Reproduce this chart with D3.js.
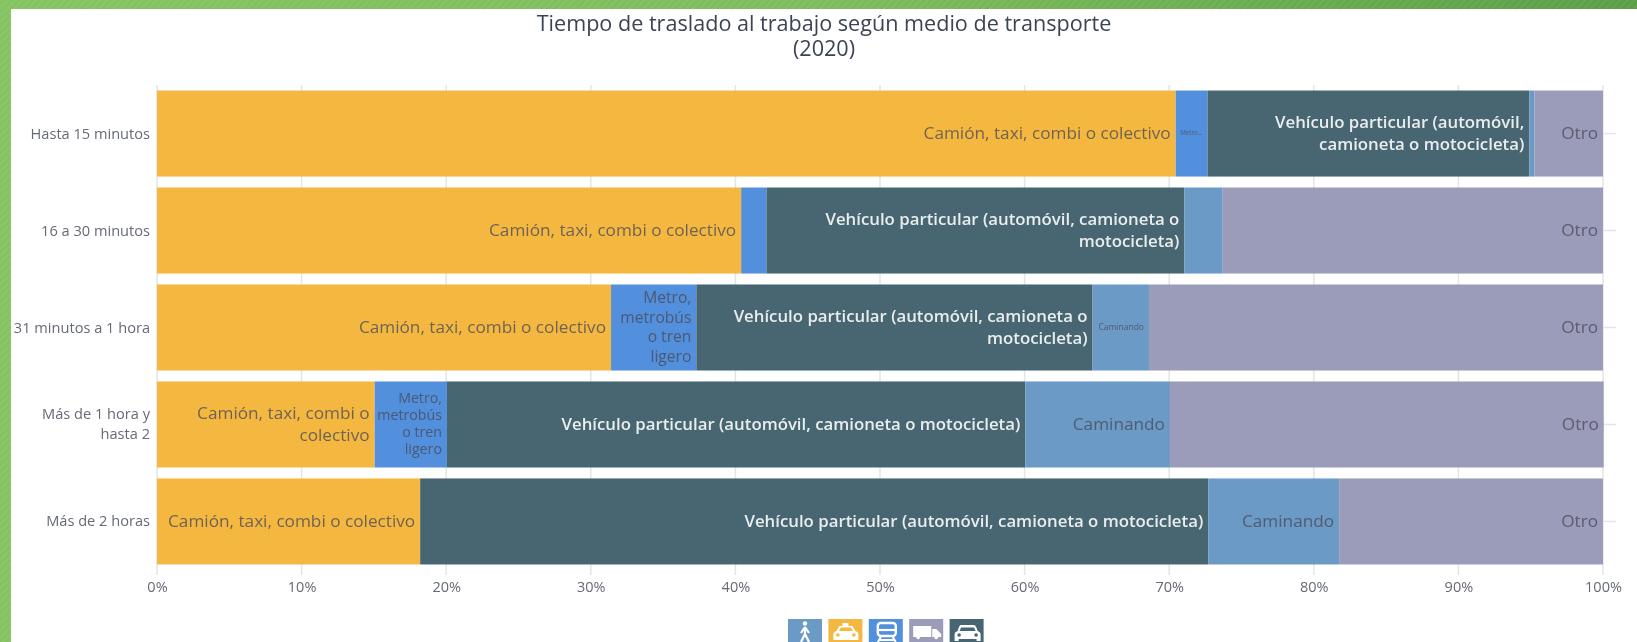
<!DOCTYPE html>
<html>
<head>
<meta charset="utf-8">
<script src="https://cdn.jsdelivr.net/npm/d3@7"></script>
<style>
html, body { margin: 0; padding: 0; background: #fff; overflow: hidden; }
svg { display: block; filter: blur(0.45px); }
text { font-family: "Open Sans", "Noto Sans", sans-serif; }
</style>
</head>
<body>
<div id="chart"></div>
<script>
var categories = ["Hasta 15 minutos", "16 a 30 minutos", "31 minutos a 1 hora", "Más de 1 hora y hasta 2", "Más de 2 horas"];
var seriesNames = ["Camión, taxi, combi o colectivo", "Metro, metrobús o tren ligero", "Vehículo particular (automóvil, camioneta o motocicleta)", "Caminando", "Otro"];
var camion = [70.45, 40.4, 31.4, 15.05, 18.2];
var metro = [2.2, 1.75, 5.9, 5.0, 0];
var vehiculo = [22.25, 28.9, 27.4, 40.0, 54.5];
var caminando = [0.35, 2.65, 3.9, 10.0, 9.05];
var otro = [4.75, 26.3, 31.4, 30.0, 18.25];
var seriesValues = [camion, metro, vehiculo, caminando, otro];
var xTicks = [0, 10, 20, 30, 40, 50, 60, 70, 80, 90, 100];
var title = ["Tiempo de traslado al trabajo según medio de transporte", "(2020)"];
// "" = no label in that cell, the first metro label is cut off in the original
var metroLabels = ["Metro...", "", "Metro, metrobús o tren ligero", "Metro, metrobús o tren ligero", ""];
var caminandoLabels = ["", "", "Caminando", "Caminando", "Caminando"];
var legendKeys = ["Caminando", "Camión, taxi, combi o colectivo", "Metro, metrobús o tren ligero", "Otro", "Vehículo particular (automóvil, camioneta o motocicleta)"];

var width = 1637, height = 642;
var margin = {top: 85, right: 34, bottom: 72, left: 157};

var colors = d3.scaleOrdinal()
    .domain(seriesNames)
    .range(["#f4b841", "#528fdc", "#486672", "#6a9ac5", "#9a9cb9"]);

var svg = d3.select("#chart").append("svg")
    .attr("width", width)
    .attr("height", height);

// green frame of the page
var defs = svg.append("defs");
var hatch = defs.append("pattern")
    .attr("id", "hatch")
    .attr("width", 5).attr("height", 5)
    .attr("patternUnits", "userSpaceOnUse")
    .attr("patternTransform", "rotate(45)");
hatch.append("rect").attr("width", 2).attr("height", 5).attr("fill", "#fff").attr("opacity", 0.06);
var grad = defs.append("linearGradient").attr("id", "topband");
grad.append("stop").attr("offset", "0%").attr("stop-color", "#84c460");
grad.append("stop").attr("offset", "50%").attr("stop-color", "#7cbc5c");
grad.append("stop").attr("offset", "100%").attr("stop-color", "#5a9e46");

svg.append("rect").attr("width", 11).attr("height", height).attr("fill", "#84c460");
svg.append("rect").attr("width", 11).attr("height", height).attr("fill", "url(#hatch)");
svg.append("rect").attr("width", width).attr("height", 9).attr("fill", "url(#topband)");
svg.append("rect").attr("width", width).attr("height", 9).attr("fill", "url(#hatch)");

// title
svg.append("text")
    .attr("text-anchor", "middle")
    .style("font-size", "21.6px")
    .style("fill", "#3c4454")
    .selectAll("tspan")
    .data(title)
    .enter().append("tspan")
    .attr("x", 824)
    .attr("y", function(d, i) { return 31 + i * 25; })
    .text(function(d) { return d; });

var x = d3.scaleLinear()
    .domain([0, 100])
    .range([margin.left, width - margin.right]);

var y = d3.scaleBand()
    .domain(categories)
    .range([margin.top, height - margin.bottom])
    .paddingInner(0.113)
    .paddingOuter(0.057);

// grid lines and ticks
var xAxis = svg.append("g")
    .attr("transform", "translate(0," + (height - margin.bottom) + ")")
    .call(d3.axisBottom(x).tickValues(xTicks).tickFormat(function(d) { return d + "%"; })
        .tickSize(0).tickPadding(12));
xAxis.select(".domain").remove();
xAxis.selectAll("text").style("font-size", "14.5px").style("fill", "#666a75");

svg.append("g").selectAll("line")
    .data(xTicks)
    .enter().append("line")
    .attr("x1", function(d) { return x(d); })
    .attr("x2", function(d) { return x(d); })
    .attr("y1", margin.top)
    .attr("y2", height - margin.bottom + 5)
    .attr("stroke", "#e4e4e4")
    .attr("stroke-width", 1.5);

// small ticks on the right side of the chart
svg.append("g").selectAll("line")
    .data(categories)
    .enter().append("line")
    .attr("x1", x(100))
    .attr("x2", x(100) + 13)
    .attr("y1", function(d) { return y(d) + y.bandwidth() / 2; })
    .attr("y2", function(d) { return y(d) + y.bandwidth() / 2; })
    .attr("stroke", "#e4e4e4")
    .attr("stroke-width", 1.5);

// stacked bars
var rows = categories.map(function(c, i) {
    var row = {category: c};
    seriesNames.forEach(function(s, j) { row[s] = seriesValues[j][i]; });
    return row;
});
var stacked = d3.stack().keys(seriesNames)(rows);

var layers = svg.append("g").selectAll("g")
    .data(stacked)
    .enter().append("g")
    .attr("fill", function(d) { return colors(d.key); });

layers.selectAll("rect")
    .data(function(d) { return d; })
    .enter().append("rect")
    .attr("x", function(d) { return x(d[0]); })
    .attr("width", function(d) { return x(d[1]) - x(d[0]); })
    .attr("y", function(d) { return y(d.data.category); })
    .attr("height", y.bandwidth());

// text inside the bars
function cellLabel(seriesIndex, rowIndex) {
    if (seriesIndex == 1) return metroLabels[rowIndex];
    if (seriesIndex == 3) return caminandoLabels[rowIndex];
    return seriesNames[seriesIndex];
}

function cellFont(seriesIndex, rowIndex) {
    if (seriesIndex == 1 && rowIndex == 0) return {size: 6.2, line: 7};
    if (seriesIndex == 1 && rowIndex == 3) return {size: 14.2, line: 17};
    if (seriesIndex == 1) return {size: 15.6, line: 19.5};
    if (seriesIndex == 3 && rowIndex == 2) return {size: 8.5, line: 10};
    if (seriesIndex == 2) return {size: 16.8, line: 21.5};
    return {size: 17.2, line: 21.5};
}

var labelPad = 5;
var labels = svg.append("g");

stacked.forEach(function(layer, s) {
    layer.forEach(function(d, r) {
        var label = cellLabel(s, r);
        if (!label) return;
        var font = cellFont(s, r);
        var right = x(d[1]) - labelPad;
        var maxWidth = x(d[1]) - x(d[0]) - labelPad * 2;
        var t = labels.append("text")
            .attr("text-anchor", "end")
            .style("font-size", font.size + "px")
            .style("font-weight", s == 2 ? 600 : 400)
            .style("fill", s == 2 ? "#e9edee" : "#4a4a58")
            .style("fill-opacity", s == 2 ? 1 : 0.78);

        // wrap on the width of the segment
        var words = label.split(" "), lines = [], current = "";
        words.forEach(function(w) {
            var test = current ? current + " " + w : w;
            t.text(test);
            if (t.node().getComputedTextLength() > maxWidth && current) {
                lines.push(current);
                current = w;
            } else {
                current = test;
            }
        });
        lines.push(current);
        t.text(null);

        var cy = y(d.data.category) + y.bandwidth() / 2;
        lines.forEach(function(line, i) {
            t.append("tspan")
                .attr("x", right)
                .attr("y", cy + (i - (lines.length - 1) / 2) * font.line + font.size * 0.35 - 0.5)
                .text(line);
        });
    });
});

// category labels
var yLabels = svg.append("g").selectAll("text")
    .data(categories)
    .enter().append("text")
    .attr("text-anchor", "end")
    .style("font-size", "14.6px")
    .style("fill", "#666a75");

yLabels.each(function(d) {
    var t = d3.select(this);
    var cy = y(d) + y.bandwidth() / 2;
    var lines = d == "Más de 1 hora y hasta 2" ? ["Más de 1 hora y", "hasta 2"] : [d];
    lines.forEach(function(line, i) {
        t.append("tspan")
            .attr("x", 150)
            .attr("y", cy + (i - (lines.length - 1) / 2) * 20 + 5)
            .text(line);
    });
});

// legend icons, the window cuts them off at the bottom
var legendX = d3.scaleBand().domain(legendKeys).range([788, 990]);
var iconSize = 34;

var icons = {};
icons[legendKeys[0]] = function(g) {
    g.append("circle").attr("cx", 17).attr("cy", 4.5).attr("r", 2.2).attr("fill", "#fff");
    g.append("path").attr("d", "M17 8 L13 14 M17 8 L21 14 M17 8 L17 15 L13 23 M17 15 L21 23")
        .attr("fill", "none").attr("stroke", "#fff").attr("stroke-width", 2.2);
};
icons[legendKeys[1]] = function(g) {
    g.append("path").attr("d", "M14 4 H20 V7 H24 L27 12 Q30 13 30 15 V21 H5 V15 Q5 13 8 12 L11 7 H14 Z").attr("fill", "#fff");
    g.append("path").attr("d", "M12.5 8.5 H22.5 L24.5 12 H10.5 Z").attr("fill", colors(seriesNames[0]));
    g.append("circle").attr("cx", 9.5).attr("cy", 16).attr("r", 1.8).attr("fill", colors(seriesNames[0]));
    g.append("circle").attr("cx", 25.5).attr("cy", 16).attr("r", 1.8).attr("fill", colors(seriesNames[0]));
};
icons[legendKeys[2]] = function(g) {
    g.append("rect").attr("x", 9).attr("y", 4).attr("width", 18).attr("height", 13).attr("rx", 3)
        .attr("fill", "none").attr("stroke", "#fff").attr("stroke-width", 2.4);
    g.append("line").attr("x1", 9).attr("x2", 27).attr("y1", 11).attr("y2", 11).attr("stroke", "#fff").attr("stroke-width", 2.2);
    g.append("path").attr("d", "M12 18 L9 23 M24 18 L27 23 M10 21 H26").attr("stroke", "#fff").attr("stroke-width", 2).attr("fill", "none");
};
icons[legendKeys[3]] = function(g) {
    g.append("path").attr("d", "M4 7 H22 V18 H4 Z M23 10 H27 L32 15 V18 H23 Z").attr("fill", "#fff");
    g.append("circle").attr("cx", 9).attr("cy", 18.5).attr("r", 1.8).attr("fill", "#fff");
    g.append("circle").attr("cx", 27).attr("cy", 18.5).attr("r", 1.8).attr("fill", "#fff");
};
icons[legendKeys[4]] = function(g) {
    g.append("path").attr("d", "M11 6 H24 Q26 6 27 9 L28 12 Q31 13 31 15 V22 H27 V20 H9 V22 H5 V15 Q5 13 8 12 L9 9 Q10 6 11 6 Z").attr("fill", "#fff");
    g.append("path").attr("d", "M11.5 8.5 H24.5 L26 12 H10 Z").attr("fill", colors(seriesNames[2]));
    g.append("circle").attr("cx", 9.5).attr("cy", 16).attr("r", 1.8).attr("fill", colors(seriesNames[2]));
    g.append("circle").attr("cx", 26.5).attr("cy", 16).attr("r", 1.8).attr("fill", colors(seriesNames[2]));
};

var legend = svg.append("g").selectAll("g")
    .data(legendKeys)
    .enter().append("g")
    .attr("transform", function(d) { return "translate(" + legendX(d) + ",619)"; });

legend.append("rect")
    .attr("width", iconSize)
    .attr("height", iconSize)
    .attr("fill", function(d) { return colors(d); });

legend.each(function(d) { icons[d](d3.select(this)); });
</script>
</body>
</html>
